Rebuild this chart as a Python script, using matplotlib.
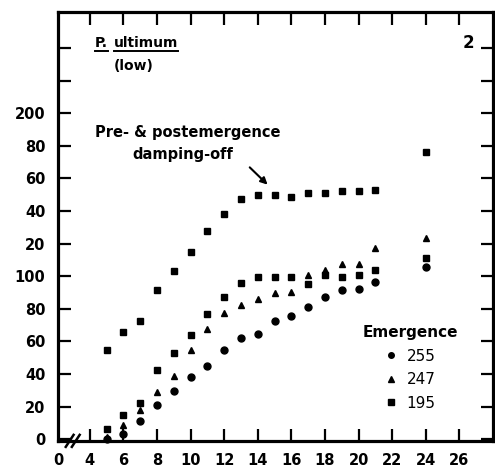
import numpy as np
import matplotlib
matplotlib.use("Agg")
import matplotlib.pyplot as plt
from matplotlib.lines import Line2D

plt.rcParams['font.family'] = ['DejaVu Sans']

# days after planting
days = [5, 6, 7, 8, 9, 10, 11, 12, 13, 14, 15, 16, 17, 18, 19, 20, 21, 24]
# pre- & postemergence damping-off (upper square series)
damping = [55, 66, 72.5, 91.5, 103, 115, 128, 138, 147.5, 150, 150, 148.5,
           151, 151, 152.5, 152.5, 153, 176.5]
# emergence series
em255 = [0, 3.5, 11, 21, 29.5, 38, 45, 54.5, 62, 64.5, 72.5, 75.5, 81,
         87.3, 91.5, 92.2, 96.5, 105.5]
em247 = [1.5, 9, 18, 29, 38.7, 55, 67.5, 77.5, 82.5, 86, 89.5, 90.5, 101,
         104, 107.6, 107.6, 117.5, 123.5]
em195 = [6, 15, 22, 42.5, 53, 64, 77, 87.3, 96, 99.6, 99.6, 99.6, 95,
         100.5, 99.6, 101, 104, 111]

x_origin = 2.1
xticks = [4, 6, 8, 10, 12, 14, 16, 18, 20, 22, 24, 26]
yticks = [0, 20, 40, 60, 80, 100, 120, 140, 160, 180, 200]
ytick_labels = ["0", "20", "40", "60", "80", "100", "20", "40", "60", "80", "200"]
yticks_minor = [220, 240]

fig = plt.figure(figsize=(4.95, 4.70), dpi=100)
ax = fig.add_axes([0.117, 0.062, 0.879, 0.912])

ms = 5
ax.plot(days, damping, 's', color='black', ms=ms, clip_on=False)
ax.plot(days, em255, 'o', color='black', ms=ms, clip_on=False, label='255')
ax.plot(days, em247, '^', color='black', ms=ms, clip_on=False, label='247')
ax.plot(days, em195, 's', color='black', ms=ms, clip_on=False, label='195')

ax.set_xlim(x_origin, 28)
ax.set_ylim(-1, 262)

for s in ax.spines.values():
    s.set_linewidth(2.3)

ax.set_xticks([x_origin] + xticks)
ax.set_xticklabels(["0"] + [str(t) for t in xticks])
ax.set_yticks(yticks + yticks_minor)
ax.set_yticklabels(ytick_labels + ["", ""])
ax.tick_params(direction='in', length=9, width=1.6, top=True, right=True,
               labelsize=10.5, pad=9)
for lab in ax.get_xticklabels() + ax.get_yticklabels():
    lab.set_fontweight('bold')
# no tick mark at the broken origin
ax.xaxis.get_major_ticks()[0].tick1line.set_visible(False)
ax.xaxis.get_major_ticks()[0].tick2line.set_visible(False)

# axis break marks
for dx in (0.027, 0.041):
    ax.plot([dx - 0.009, dx + 0.009], [-0.014, 0.014], transform=ax.transAxes,
            color='black', lw=1.8, clip_on=False)

ax.text(0.943, 0.928, "2", transform=ax.transAxes, fontsize=12,
        fontweight='bold', ha='center', va='center')
t_p = ax.text(0.085, 0.928, "P.", transform=ax.transAxes, fontsize=10,
              fontweight='bold', ha='left', va='center')
t_u = ax.text(0.128, 0.928, "ultimum", transform=ax.transAxes, fontsize=10,
              fontweight='bold', ha='left', va='center')
ax.text(0.175, 0.874, "(low)", transform=ax.transAxes, fontsize=10,
        fontweight='bold', ha='center', va='center')
ax.text(0.085, 0.72, "Pre- & postemergence", transform=ax.transAxes,
        fontsize=10.5, fontweight='bold', ha='left', va='center')
ax.text(0.172, 0.667, "damping-off", transform=ax.transAxes,
        fontsize=10.5, fontweight='bold', ha='left', va='center')
ax.annotate("", xy=(14.7, 155), xytext=(13.4, 168),
            arrowprops=dict(arrowstyle='-|>', color='black', lw=1.5,
                            mutation_scale=10))

handles = [Line2D([], [], ls='', marker='o', color='black', ms=4),
           Line2D([], [], ls='', marker='^', color='black', ms=4),
           Line2D([], [], ls='', marker='s', color='black', ms=4)]
leg = ax.legend(handles, ["255", "247", "195"], title="Emergence",
                loc='center', bbox_to_anchor=(0.81, 0.17), frameon=False,
                fontsize=11, handlelength=0.8, handletextpad=0.6,
                labelspacing=0.55)
leg.get_title().set_fontweight('bold')
leg.get_title().set_fontsize(11)

# underline the species name
fig.canvas.draw()
renderer = fig.canvas.get_renderer()
inv = ax.transAxes.inverted()
for t in (t_p, t_u):
    bb = t.get_window_extent(renderer)
    (x0, y0), (x1, _) = inv.transform([(bb.x0, bb.y0 - 1), (bb.x1, bb.y0 - 1)])
    ax.plot([x0, x1], [y0, y0], transform=ax.transAxes, color='black',
            lw=1.4, clip_on=False)

fig.savefig("out.png", dpi=100)
